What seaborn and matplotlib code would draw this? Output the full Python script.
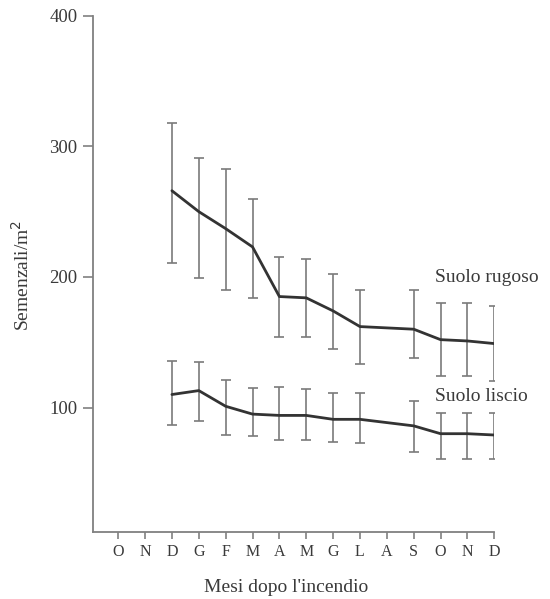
import numpy as np
import pandas as pd
import matplotlib
matplotlib.use('Agg')
import matplotlib.pyplot as plt
import seaborn as sns

# Mesi dopo l'incendio (asse x)
months = ['O', 'N', 'D', 'G', 'F', 'M', 'A', 'M', 'G', 'L', 'A', 'S', 'O', 'N', 'D']

# Suolo rugoso: media e limiti delle barre d'errore (None = nessun dato)
rugoso_mean = [None, None, 266, 250, 237, 223, 185, 184, 174, 162, None, 160, 152, 151, 149]
rugoso_low = [None, None, 211, 199, 190, 184, 154, 154, 145, 133, None, 138, 124, 124, 120]
rugoso_high = [None, None, 318, 291, 283, 260, 215, 214, 202, 190, None, 190, 180, 180, 178]

# Suolo liscio
liscio_mean = [None, None, 110, 113, 101, 95, 94, 94, 91, 91, None, 86, 80, 80, 79]
liscio_low = [None, None, 87, 90, 79, 78, 75, 75, 74, 73, None, 66, 61, 61, 61]
liscio_high = [None, None, 136, 135, 121, 115, 116, 114, 111, 111, None, 105, 96, 96, 96]

rows = []
for i, m in enumerate(months):
    for name, mean, lo, hi in [('Suolo rugoso', rugoso_mean, rugoso_low, rugoso_high),
                               ('Suolo liscio', liscio_mean, liscio_low, liscio_high)]:
        if mean[i] is not None:
            rows.append({'pos': i, 'mese': m, 'serie': name,
                         'val': mean[i], 'lo': lo[i], 'hi': hi[i]})
df = pd.DataFrame(rows)

sns.set_style('ticks')
plt.rcParams['font.family'] = ['Liberation Serif', 'DejaVu Serif']

axis_col = '#808080'
line_col = '#333333'
text_col = '#3a3a3a'

fig = plt.figure(figsize=(5.5, 5.99), dpi=100)
ax = fig.add_axes([0.1685, 0.1124, 0.7302, 0.8614])

for name in ['Suolo rugoso', 'Suolo liscio']:
    d = df[df['serie'] == name]
    ax.errorbar(d['pos'], d['val'], yerr=[d['val'] - d['lo'], d['hi'] - d['val']],
                fmt='none', ecolor='#7a7a7a', elinewidth=1.2, capsize=3.8, capthick=1.2, zorder=2)
sns.lineplot(data=df, x='pos', y='val', units='serie', estimator=None, color=line_col,
             linewidth=2.0, ax=ax, zorder=3, legend=False)

ax.set_xlim(-0.95, 14)
ax.set_ylim(5, 400)
ax.set_xticks(range(len(months)))
ax.set_xticklabels(months, fontsize=11.5, color=text_col)
ax.set_yticks([100, 200, 300, 400])
ax.set_yticklabels(['100', '200', '300', '400'], fontsize=13.5, color=text_col)
ax.tick_params(axis='x', length=4.8, width=1.2, color=axis_col, pad=4)
ax.tick_params(axis='y', length=7, width=1.2, color=axis_col, pad=4)
for s in ['top', 'right']:
    ax.spines[s].set_visible(False)
for s in ['left', 'bottom']:
    ax.spines[s].set_color(axis_col)
    ax.spines[s].set_linewidth(1.3)
ax.set_xlabel('')
ax.set_ylabel('')

ax.text(11.79, 199.8, 'Suolo rugoso', fontsize=14, color=text_col, va='center', ha='left')
ax.text(11.79, 108.6, 'Suolo liscio', fontsize=14, color=text_col, va='center', ha='left')

fig.text(22 / 550, 1 - 275 / 599, 'Semenzali/m$^2$', rotation=90, fontsize=14,
         color=text_col, ha='center', va='center')
fig.text(286 / 550, 1 - 587 / 599, "Mesi dopo l'incendio", fontsize=14,
         color=text_col, ha='center', va='center')

fig.savefig('out.png', dpi=100)
